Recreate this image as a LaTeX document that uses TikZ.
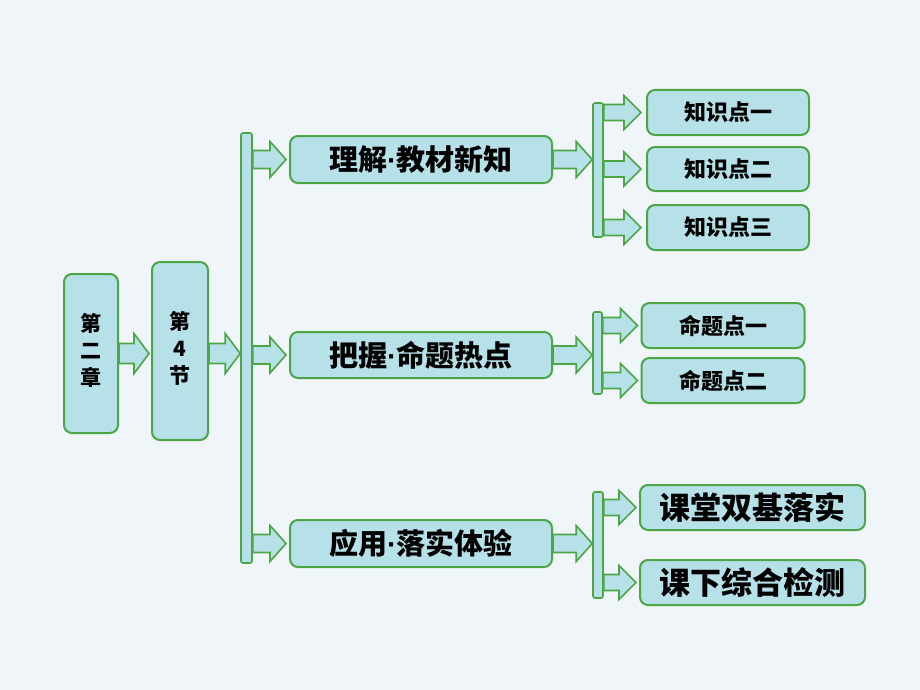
\documentclass[tikz,border=0pt]{standalone}
\usepackage{fontspec}
\usepackage{tikz}
\usetikzlibrary{calc}
\newfontfamily\cjk{Noto Sans CJK SC}
\newfontfamily\latin{Liberation Sans}

\definecolor{bgcol}{RGB}{240,245,250}
\definecolor{boxfill}{RGB}{182,225,232}
\definecolor{boxline}{RGB}{76,166,70}

\newcommand{\mdot}{{\latin\bfseries ·}}

\tikzset{
  box/.style={draw=boxline, line width=2pt, fill=boxfill, rounded corners=8pt, inner sep=0pt},
  barbox/.style={draw=boxline, line width=1.6pt, fill=boxfill, rounded corners=2pt, inner sep=0pt},
  arr/.style={draw=boxline, line width=1.6pt, fill=boxfill, line join=miter}
}

% block arrow: from, to, body half height, head half height, head length
\newcommand{\blkarr}[5]{%
  \draw[arr] let \p1=(#1), \p2=(#2) in
    (\x1,\y1+#3) -- (\x2-#5,\y1+#3) -- (\x2-#5,\y1+#4) -- (\x2,\y1)
    -- (\x2-#5,\y1-#4) -- (\x2-#5,\y1-#3) -- (\x1,\y1-#3) -- cycle;}

\begin{document}
\begin{tikzpicture}[x=1pt,y=-1pt]
\fill[bgcol] (0,0) rectangle (920,690);
\useasboundingbox (0,0) rectangle (920,690);

% left column
\node[box, minimum width=54pt, minimum height=159pt] (chap) at (91,353.5)
  {\cjk\bfseries\fontsize{21}{27}\selectfont\begin{tabular}{@{}c@{}}第\\二\\章\end{tabular}};
\node[box, minimum width=56pt, minimum height=178pt] (sec) at (180,351)
  {\cjk\bfseries\fontsize{21}{27}\selectfont\begin{tabular}{@{}c@{}}第\\4\\节\end{tabular}};

% main bar
\node[barbox, minimum width=11pt, minimum height=430pt] (bar) at (246.5,348) {};

% middle column
\node[box, minimum width=262pt, minimum height=47pt] (c1) at (421,159.5)
  {\cjk\bfseries\fontsize{29}{29}\selectfont 理解\mdot 教材新知};
\node[box, minimum width=262pt, minimum height=46pt] (c2) at (421,355)
  {\cjk\bfseries\fontsize{29}{29}\selectfont 把握\mdot 命题热点};
\node[box, minimum width=262pt, minimum height=47pt] (c3) at (421,543.5)
  {\cjk\bfseries\fontsize{29}{29}\selectfont 应用\mdot 落实体验};

% small bars
\node[barbox, minimum width=10pt, minimum height=134pt] (bar1) at (598,170) {};
\node[barbox, minimum width=9pt, minimum height=82pt] (bar2) at (597.5,353) {};
\node[barbox, minimum width=10pt, minimum height=106pt] (bar3) at (598,545) {};

% right column
\node[box, minimum width=162pt, minimum height=45pt] (k1) at (728,112.5)
  {\cjk\bfseries\fontsize{22}{22}\selectfont 知识点一};
\node[box, minimum width=162pt, minimum height=44pt] (k2) at (728,169)
  {\cjk\bfseries\fontsize{22}{22}\selectfont 知识点二};
\node[box, minimum width=162pt, minimum height=45pt] (k3) at (728,227.5)
  {\cjk\bfseries\fontsize{22}{22}\selectfont 知识点三};
\node[box, minimum width=163pt, minimum height=45pt] (m1) at (723,325.5)
  {\cjk\bfseries\fontsize{22}{22}\selectfont 命题点一};
\node[box, minimum width=163pt, minimum height=45pt] (m2) at (723,380.5)
  {\cjk\bfseries\fontsize{22}{22}\selectfont 命题点二};
\node[box, minimum width=225pt, minimum height=45pt] (p1) at (752.5,507.5)
  {\cjk\bfseries\fontsize{31}{31}\selectfont 课堂双基落实};
\node[box, minimum width=225pt, minimum height=45pt] (p2) at (752.5,582.5)
  {\cjk\bfseries\fontsize{31}{31}\selectfont 课下综合检测};

% arrows
\blkarr{chap.east}{$(sec.west |- chap.east)+(-2,0)$}{10}{20}{15}
\blkarr{sec.east |- chap.east}{bar.west |- chap.east}{10}{20}{15}
\blkarr{bar.east |- c1.west}{$(c1.west)+(-3,0)$}{9}{18}{16}
\blkarr{bar.east |- c2.west}{$(c2.west)+(-3,0)$}{9}{18}{16}
\blkarr{bar.east |- c3.west}{$(c3.west)+(-3,0)$}{9}{18}{16}
\blkarr{c1.east}{bar1.west |- c1.east}{9}{18}{16}
\blkarr{c2.east}{bar2.west |- c2.east}{9}{18}{16}
\blkarr{c3.east}{bar3.west |- c3.east}{9}{18}{16}
\blkarr{bar1.east |- k1.west}{$(k1.west)+(-5,0)$}{8}{17}{17}
\blkarr{bar1.east |- k2.west}{$(k2.west)+(-5,0)$}{8}{17}{17}
\blkarr{bar1.east |- k3.west}{$(k3.west)+(-5,0)$}{8}{17}{17}
\blkarr{bar2.east |- m1.west}{$(m1.west)+(-3,0)$}{8}{17}{17}
\blkarr{bar2.east |- m2.west}{$(m2.west)+(-3,0)$}{8}{17}{17}
\blkarr{bar3.east |- p1.west}{$(p1.west)+(-3,0)$}{8}{17}{17}
\blkarr{bar3.east |- p2.west}{$(p2.west)+(-3,0)$}{8}{17}{17}

\end{tikzpicture}
\end{document}
